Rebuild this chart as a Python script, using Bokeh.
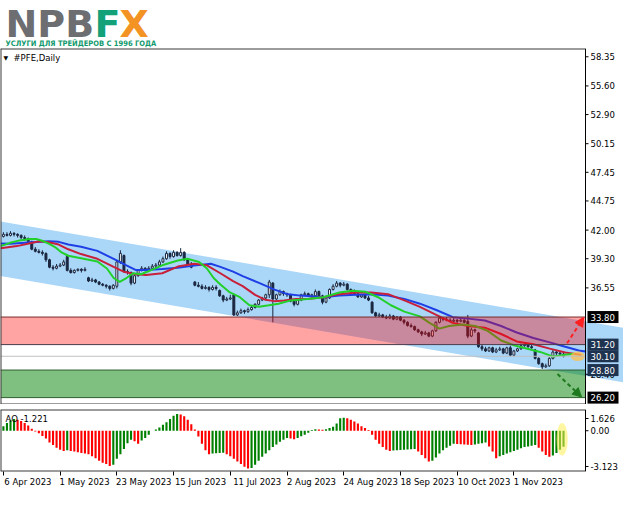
from bokeh.plotting import figure
from bokeh.layouts import column
from bokeh.models import (Range1d, FixedTicker, Label, Arrow, NormalHead,
                          ColumnDataSource, LinearAxis)
from bokeh.embed import file_html
from bokeh.resources import INLINE
from bokeh.core.properties import value

# ---------------- data ----------------
DATE_TICKS = [0, 16, 32, 48, 64, 80, 96, 112, 128, 144]
DATE_LABELS = ["6 Apr 2023", "1 May 2023", "23 May 2023", "15 Jun 2023", "11 Jul 2023",
               "2 Aug 2023", "24 Aug 2023", "18 Sep 2023", "10 Oct 2023", "1 Nov 2023"]

OPEN = [41.4,41.6,41.5,41.7,41.6,41.5,41.3,41.2,40.9,40.2,
        40.0,39.9,39.8,39.2,38.5,38.4,38.6,38.7,39.5,38.2,
        38.0,38.2,38.3,38.2,37.5,37.2,37.3,37.1,36.9,36.8,
        36.7,36.5,36.7,39.0,39.6,38.1,38.0,37.0,37.7,38.2,
        38.4,38.3,38.4,38.6,38.7,39.0,39.3,39.8,39.5,39.9,
        39.6,39.9,39.2,38.8,37.1,36.8,36.7,36.5,36.6,36.4,
        36.6,36.3,35.8,35.4,35.5,35.9,34.0,34.2,34.4,34.3,
        34.5,34.7,35.0,35.4,35.6,35.9,37.0,35.5,35.9,36.2,
        36.0,35.9,35.3,35.0,35.4,35.9,36.0,35.8,35.8,36.2,
        35.8,35.2,35.6,36.4,36.7,37.0,36.8,36.9,36.4,36.2,
        36.0,35.7,35.9,35.6,35.2,34.2,33.9,34.0,33.8,33.7,
        33.9,33.6,33.8,33.5,33.3,33.0,32.9,32.6,32.4,32.2,
        32.3,32.0,32.5,33.3,33.7,33.6,33.5,33.4,33.5,33.4,
        33.5,33.4,32.0,32.6,32.3,31.0,30.8,30.6,30.9,30.5,
        30.7,30.8,30.4,30.9,30.2,30.6,30.8,31.1,31.2,31.0,
        30.7,29.9,29.4,29.1,29.2,29.9,30.5,30.4,30.3]
HIGH = [41.8,41.8,41.9,41.8,41.7,41.6,41.5,41.3,41.0,40.4,
        40.2,40.1,39.9,39.3,38.7,38.8,38.9,39.2,39.7,38.4,
        38.3,38.4,38.4,38.5,37.6,37.5,37.4,37.2,37.0,36.9,
        36.8,36.9,39.2,40.1,39.7,38.3,38.1,37.8,38.3,38.6,
        38.5,38.6,38.8,38.9,39.2,39.5,40.0,39.9,40.1,40.0,
        40.3,40.0,39.3,39.0,37.2,37.1,36.9,36.8,36.7,36.8,
        36.8,36.4,35.9,35.7,35.9,36.0,34.4,34.6,34.5,34.7,
        34.9,35.1,35.5,35.7,36.0,37.3,37.1,36.0,36.4,36.3,
        36.1,36.0,35.4,35.5,36.0,36.2,36.1,36.0,36.4,36.3,
        35.9,35.7,36.5,36.9,37.2,37.1,37.1,37.0,36.5,36.4,
        36.1,36.0,36.0,35.8,35.3,34.3,34.2,34.1,34.0,34.1,
        34.0,33.9,33.9,33.6,33.4,33.2,33.0,32.7,32.5,32.5,
        32.4,32.6,33.4,33.9,33.8,33.8,33.7,33.7,33.6,33.7,
        33.6,34.0,32.8,32.7,32.4,31.2,31.0,31.0,31.0,30.9,
        31.0,30.9,31.0,31.1,30.7,30.9,31.3,31.4,31.3,31.2,
        30.8,30.0,29.5,29.4,30.0,30.7,30.6,30.6,30.5]
LOW = [41.3,41.4,41.4,41.4,41.3,41.1,41.0,40.7,40.1,39.9,
       39.8,39.6,39.0,38.4,38.2,38.3,38.5,38.6,38.1,37.9,
       37.9,38.1,38.0,38.1,37.1,37.1,37.0,36.8,36.7,36.5,
       36.3,36.4,36.5,38.8,38.0,37.8,36.8,36.9,37.6,38.1,
       38.1,38.2,38.3,38.4,38.6,38.9,39.2,39.3,39.4,39.5,
       39.5,39.1,38.7,38.4,36.7,36.6,36.4,36.4,36.2,36.3,
       36.3,35.7,35.2,35.3,35.4,33.9,33.9,34.1,34.1,34.2,
       34.4,34.6,34.9,35.3,35.5,35.6,33.3,35.4,35.8,35.8,
       35.7,35.2,34.8,34.9,35.3,35.8,35.7,35.6,35.7,35.7,
       35.0,35.1,35.5,36.3,36.6,36.6,36.7,36.3,36.1,35.9,
       35.6,35.6,35.5,35.3,34.1,33.8,33.8,33.7,33.6,33.6,
       33.5,33.5,33.4,33.1,32.9,32.8,32.5,32.3,32.0,32.1,
       31.9,31.9,32.4,33.2,33.4,33.4,33.3,33.3,33.2,33.3,
       33.2,31.8,31.9,32.3,30.9,30.6,30.5,30.5,30.4,30.4,
       30.6,30.3,30.3,30.1,30.1,30.5,30.7,31.0,30.9,30.8,
       29.8,29.3,28.9,29.0,29.1,29.8,30.2,30.2,30.0]
CLOSE = [41.6,41.5,41.7,41.6,41.5,41.3,41.2,40.9,40.2,40.0,
         39.9,39.8,39.2,38.5,38.4,38.6,38.7,39.0,38.2,38.0,
         38.2,38.3,38.2,38.3,37.2,37.3,37.1,36.9,36.8,36.7,
         36.5,36.8,39.0,39.8,38.1,38.0,37.0,37.7,38.2,38.4,
         38.3,38.4,38.6,38.7,39.0,39.3,39.8,39.5,39.9,39.6,
         39.9,39.2,38.8,38.5,36.8,36.7,36.5,36.6,36.4,36.6,
         36.5,35.8,35.4,35.5,35.6,34.0,34.2,34.4,34.3,34.5,
         34.7,35.0,35.4,35.6,35.9,37.1,35.5,35.9,36.2,36.0,
         35.9,35.3,35.0,35.4,35.9,36.0,35.8,35.9,36.2,35.8,
         35.2,35.6,36.4,36.7,37.0,36.8,36.9,36.4,36.2,36.0,
         35.7,35.9,35.6,35.4,34.2,33.9,34.0,33.8,33.7,33.9,
         33.6,33.8,33.5,33.3,33.0,32.9,32.6,32.4,32.2,32.3,
         32.0,32.5,33.3,33.7,33.6,33.5,33.4,33.5,33.4,33.5,
         33.3,32.0,32.6,32.5,31.0,30.8,30.6,30.9,30.5,30.7,
         30.8,30.4,30.9,30.2,30.6,30.8,31.1,31.2,31.0,30.9,
         29.9,29.4,29.1,29.2,29.9,30.5,30.4,30.3,30.1]

AO = [0.35,0.6,0.8,0.9,0.85,0.75,0.6,0.4,0.15,-0.05,
      -0.2,-0.4,-0.6,-0.9,-1.1,-1.3,-1.45,-1.55,-1.5,-1.55,
      -1.6,-1.65,-1.7,-1.75,-1.8,-1.95,-2.1,-2.3,-2.45,-2.55,
      -2.7,-2.6,-2.15,-1.8,-1.4,-0.95,-0.7,-0.8,-1.0,-0.75,
      -0.55,-0.3,0.0,0.1,0.25,0.45,0.65,0.9,1.15,1.28,
      1.25,1.1,0.85,0.5,0.1,-0.45,-1.0,-1.5,-1.8,-1.75,
      -1.72,-1.7,-1.68,-1.8,-1.95,-2.15,-2.35,-2.55,-2.75,-2.9,
      -2.85,-2.6,-2.3,-2.0,-1.75,-1.5,-1.25,-1.05,-0.85,-0.7,
      -0.55,-0.6,-0.65,-0.55,-0.42,-0.3,-0.15,0.05,0.12,0.1,
      0.08,0.12,0.2,0.3,0.55,0.95,1.0,0.95,0.85,0.7,
      0.55,0.35,0.2,0.05,-0.3,-0.7,-1.0,-1.25,-1.45,-1.55,
      -1.52,-1.5,-1.48,-1.46,-1.44,-1.42,-1.4,-1.6,-1.85,-2.1,
      -2.35,-2.3,-2.05,-1.75,-1.5,-1.3,-1.15,-1.0,-1.02,-1.04,
      -1.06,-1.08,-1.1,-1.05,-1.0,-0.95,-0.9,-1.2,-1.6,-2.1,
      -1.95,-1.85,-1.75,-1.65,-1.55,-1.45,-1.35,-1.25,-1.2,-1.15,
      -1.1,-1.3,-1.6,-1.85,-2.0,-1.9,-1.7,-1.45,-1.221]
AO_LABEL = "AO -1.221"
AO_MAX, AO_MIN = 1.626, -3.123

# Alligator lines (bar index, price)
JAW_X = [-0.8,1.9,8.2,12.8,15.6,18.3,21.9,26.5,31.1,34.7,37.4,40.2,44.8,49.2,53.8,58.5,61.2,64.8,67.5,72.1,
         76.5,80.3,83.9,90.2,94.8,99.5,103.8,108.5,113.1,117.5,122.1,126.8,131.1,135.8,140.4,144.8,149.5,154.1,158.5,162.3,164.2]
JAW_Y = [40.73,40.71,40.85,40.94,40.89,40.64,40.43,40.04,39.29,38.68,38.23,38.23,38.32,38.44,38.65,38.83,38.53,38.08,37.66,37.02,
         36.39,35.94,35.82,35.67,35.82,35.91,35.96,35.82,35.51,35.06,34.46,33.79,33.65,33.47,32.95,32.34,31.82,31.41,30.99,30.64,30.54]
TEETH_X = [-0.8,3.8,8.2,10.1,12.8,15.6,18.3,21.9,26.5,31.1,33.9,37.4,40.2,44.8,49.2,53.8,57.4,61.2,64.8,67.5,71.0,
           73.8,76.5,79.2,82.5,85.8,90.2,94.8,99.5,103.8,108.5,113.1,117.5,122.1,126.8,131.1,135.8,140.4,144.8,149.5,154.1,158.5,163.0]
TEETH_Y = [40.28,40.49,40.80,40.94,40.85,40.64,40.19,39.74,39.29,38.53,38.08,37.84,37.77,37.93,38.56,38.83,38.68,37.93,37.18,36.72,35.89,
           35.44,35.30,35.37,35.51,35.51,35.67,35.96,36.12,36.12,35.96,35.37,34.76,34.01,33.25,32.95,32.80,32.20,31.50,31.23,30.82,30.46,30.22]
LIPS_X = [-0.8,1.9,4.6,7.4,9.3,10.9,12.8,14.8,16.4,18.3,21.9,26.5,29.2,31.1,32.8,34.7,36.6,38.8,40.2,44.8,
          49.2,51.9,55.2,57.4,59.3,61.2,63.9,66.7,69.4,72.1,74.9,77.6,81.1,85.8,90.2,94.8,98.4,102.2,105.7,109.3,
          113.1,117.5,120.2,123.0,125.7,129.5,133.1,136.6,140.4,144.0,147.5,151.4,155.0,158.5,161.0]
LIPS_Y = [40.49,40.80,41.03,41.16,41.16,41.00,40.73,40.34,39.89,39.58,39.35,39.04,38.38,37.48,37.11,37.48,37.93,37.84,38.02,38.68,
          39.13,39.29,38.99,38.38,37.48,36.87,36.12,35.67,34.91,34.76,34.91,35.06,35.37,35.51,35.67,36.12,36.27,36.18,35.67,34.91,
          34.31,33.86,33.25,32.71,32.95,33.10,32.95,32.50,31.59,31.14,30.84,30.51,30.08,30.24,30.33]

CHANNEL_X = [-0.82, 174.92]
CHANNEL_UPPER = [42.81, 32.79]
CHANNEL_LOWER = [37.66, 27.63]
RESISTANCE_ZONE = [31.20, 33.80]
SUPPORT_ZONE = [26.20, 28.80]
BID = 30.10
PRICE_TICKS = [58.35, 55.60, 52.90, 50.15, 47.45, 44.75, 42.00, 39.30, 36.55, 28.40]
UP_ARROW = [159.0, 31.32, 163.7, 33.77]
DOWN_ARROW = [156.3, 28.42, 163.1, 26.25]
HIGHLIGHT_MAIN = [162.0, 30.1]
HIGHLIGHT_AO = [157.6, -0.65]
AO_TICKS = [0.937, 0.0, -2.74]
AO_TICK_LABELS = ["1.626", "0.00", "-3.123"]

# ---------------- layout ----------------
W = 623
RB = 38                      # width of the price-scale strip
FRAME_W = W - RB
X0, X1 = -0.82, 164.2        # visible bar range of the chart area
PXB = FRAME_W / (X1 - X0)    # pixels per bar
X_END = X1 + RB / PXB        # frames continue through the price-scale strip
Y0, Y1 = 25.55, 59.13
HEAD_H = 48
MAIN_H = 356
AO_H = 88
AO_TOP, AO_BOTTOM = 5, 21
PXU = MAIN_H / (Y1 - Y0)
FONT = "DejaVu Sans"
NAVY = "#1c2840"
BORDER = "#3a3a3a"

xr = Range1d(X0, X_END)

# header with logo
head = figure(width=W, height=HEAD_H, x_range=Range1d(0, W), y_range=Range1d(HEAD_H, 0),
              output_backend="svg", toolbar_location=None, min_border=0,
              x_axis_location=None, y_axis_location=None, outline_line_color=None)
head.grid.visible = False
for txt, x0, col in [("NPB", 5, "#6d6e71"), ("F", 94, "#13a17a"), ("X", 119, "#f39323")]:
    head.text(x=[x0], y=[23], text=[txt], text_font=value(FONT), text_font_style="bold",
              text_font_size="38px", text_color=col, text_baseline="middle")
head.text(x=[5], y=[43], text=["УСЛУГИ ДЛЯ ТРЕЙДЕРОВ С 1996 ГОДА"],
          text_font=value("DejaVu Sans Condensed"), text_font_style="bold",
          text_font_size="7.5px", text_color="#109a6e", text_baseline="middle")

# main price chart
main = figure(width=W, height=MAIN_H, x_range=xr, y_range=Range1d(Y0, Y1),
              output_backend="svg", toolbar_location=None, min_border=0,
              x_axis_location=None, y_axis_location=None, outline_line_color=None)
main.grid.visible = False

main.patch(x=[CHANNEL_X[0], CHANNEL_X[1], CHANNEL_X[1], CHANNEL_X[0]],
           y=[CHANNEL_UPPER[0], CHANNEL_UPPER[1], CHANNEL_LOWER[1], CHANNEL_LOWER[0]],
           fill_color="#aad6f8", line_color=None)

n = len(CLOSE)
src = ColumnDataSource(dict(
    x=list(range(n)), h=HIGH, l=LOW,
    top=[max(o, c) for o, c in zip(OPEN, CLOSE)],
    bot=[min(o, c) for o, c in zip(OPEN, CLOSE)],
    fill=["white" if c >= o else NAVY for o, c in zip(OPEN, CLOSE)]))
main.segment(x0="x", y0="h", x1="x", y1="l", source=src, line_color=NAVY, line_width=1)
main.vbar(x="x", top="top", bottom="bot", width=0.55, fill_color="fill",
          line_color=NAVY, line_width=1, source=src)

main.line(JAW_X, JAW_Y, line_color="#1f3fe6", line_width=2)
main.line(TEETH_X, TEETH_Y, line_color="#c8203a", line_width=2)
main.line(LIPS_X, LIPS_Y, line_color="#22d02a", line_width=2)

main.ellipse(x=[HIGHLIGHT_MAIN[0]], y=[HIGHLIGHT_MAIN[1]], width=4.0, height=0.9,
             fill_color="#ffc04a", fill_alpha=0.75, line_color=None)

main.quad(left=[X0, X0], right=[X1, X1],
          bottom=[RESISTANCE_ZONE[0], SUPPORT_ZONE[0]], top=[RESISTANCE_ZONE[1], SUPPORT_ZONE[1]],
          fill_color=["#ff0000", "#008000"], fill_alpha=[0.36, 0.5], line_color=None)
level_prices = [RESISTANCE_ZONE[1], RESISTANCE_ZONE[0], BID, SUPPORT_ZONE[1], SUPPORT_ZONE[0]]
level_colors = ["#7a2a2a", "#4a3a4a", "#c0c0c0", "#2f5f2f", "#2f5f2f"]
main.segment(x0=[X0] * 5, x1=[X1] * 5, y0=level_prices, y1=level_prices,
             line_color=level_colors, line_width=1)

main.add_layout(Arrow(end=NormalHead(size=9, fill_color="#ff2020", line_color="#ff2020"),
                      x_start=UP_ARROW[0], y_start=UP_ARROW[1], x_end=UP_ARROW[2], y_end=UP_ARROW[3],
                      line_color="#ff2020", line_width=2, line_dash="4 3"))
main.add_layout(Arrow(end=NormalHead(size=9, fill_color="#1f7a1f", line_color="#1f7a1f"),
                      x_start=DOWN_ARROW[0], y_start=DOWN_ARROW[1], x_end=DOWN_ARROW[2], y_end=DOWN_ARROW[3],
                      line_color="#1f7a1f", line_width=2, line_dash="4 3"))

# frame borders and price scale line
main.segment(x0=[X0, X0, X0], x1=[X1, X1, X0], y0=[Y1, Y0, Y0], y1=[Y1, Y0, Y1],
             line_color=BORDER, line_width=2)
main.segment(x0=[X1], x1=[X1], y0=[Y0], y1=[Y1], line_color="black", line_width=1)

nt = len(PRICE_TICKS)
main.segment(x0=[X1] * nt, x1=[X1 + 3 / PXB] * nt, y0=PRICE_TICKS, y1=PRICE_TICKS,
             line_color="black", line_width=1)
main.text(x=[X1 + 5 / PXB] * nt, y=PRICE_TICKS, text=[f"{t:.2f}" for t in PRICE_TICKS],
          text_font=value(FONT), text_font_size="8.5px", text_color="black", text_baseline="middle")

box_bg = ["black", "#1e3350", "#1e3350", "#1e3350", "black"]
main.quad(left=[X1 + 2 / PXB] * 5, right=[X1 + 33 / PXB] * 5,
          bottom=[p - 6 / PXU for p in level_prices], top=[p + 6 / PXU for p in level_prices],
          fill_color=box_bg, line_color=None)
main.text(x=[X1 + 5 / PXB] * 5, y=level_prices, text=[f"{p:.2f}" for p in level_prices],
          text_font=value(FONT), text_font_size="8.5px", text_color="white", text_baseline="middle")

main.add_layout(Label(x=3, y=MAIN_H - 9, x_units="screen", y_units="screen", text="▼",
                      text_font=FONT, text_font_size="6px", text_baseline="middle", text_color="black"))
main.add_layout(Label(x=13, y=MAIN_H - 9, x_units="screen", y_units="screen", text="#PFE,Daily",
                      text_font=FONT, text_font_size="8.5px", text_baseline="middle", text_color="black"))

# AO panel
ao = figure(width=W, height=AO_H, x_range=xr, y_range=Range1d(AO_MIN, AO_MAX),
            output_backend="svg", toolbar_location=None,
            min_border_left=0, min_border_right=0, min_border_top=AO_TOP, min_border_bottom=AO_BOTTOM,
            y_axis_location=None, x_axis_location="below", outline_line_color=None)
ao.grid.visible = False
colors = ["green" if k == 0 or AO[k] > AO[k - 1] else "red" for k in range(len(AO))]
ao.vbar(x=list(range(len(AO))), top=AO, bottom=0, width=0.6, fill_color=colors, line_color=None)
ao.ellipse(x=[HIGHLIGHT_AO[0]], y=[HIGHLIGHT_AO[1]], width=3.2, height=2.5,
           fill_color="#ffee55", fill_alpha=0.55, line_color=None)

ao.segment(x0=[X0, X0, X0], x1=[X1, X1, X0], y0=[AO_MAX, AO_MIN, AO_MIN], y1=[AO_MAX, AO_MIN, AO_MAX],
           line_color=BORDER, line_width=2)
ao.segment(x0=[X1], x1=[X1], y0=[AO_MIN], y1=[AO_MAX], line_color="black", line_width=1)
na = len(AO_TICKS)
ao.segment(x0=[X1] * na, x1=[X1 + 3 / PXB] * na, y0=AO_TICKS, y1=AO_TICKS, line_color="black", line_width=1)
ao.text(x=[X1 + 5 / PXB] * na, y=AO_TICKS, text=AO_TICK_LABELS,
        text_font=value(FONT), text_font_size="8.5px", text_color="black", text_baseline="middle")

# date axis: tick marks on the bars, labels start at the tick (MT4 style)
ao.xaxis.ticker = FixedTicker(ticks=DATE_TICKS)
ao.xaxis.major_label_overrides = {t: "" for t in DATE_TICKS}
ao.xaxis.major_label_text_font_size = "1px"
ao.xaxis.major_label_standoff = 0
ao.xaxis.major_tick_in = 0
ao.xaxis.major_tick_out = 4
ao.xaxis.minor_tick_out = 0
ao.xaxis.minor_tick_in = 0
ao.xaxis.axis_line_color = None

label_pos = [t + (len(s) * 4.9 / 2) / PXB for t, s in zip(DATE_TICKS, DATE_LABELS)]
date_axis = LinearAxis(ticker=FixedTicker(ticks=label_pos),
                       major_label_overrides={p: s for p, s in zip(label_pos, DATE_LABELS)},
                       major_label_text_font=FONT, major_label_text_font_size="8.5px",
                       major_label_text_color="black", major_label_standoff=1,
                       major_tick_in=0, major_tick_out=0, minor_tick_in=0, minor_tick_out=0,
                       axis_line_color=None)
ao.add_layout(date_axis, "below")

ao.add_layout(Label(x=5, y=AO_H - AO_TOP - AO_BOTTOM - 9, x_units="screen", y_units="screen",
                    text=AO_LABEL, text_font=FONT, text_font_size="8.5px",
                    text_baseline="middle", text_color="black"))

p = column(head, main, ao, spacing=0)
open("out.html", "w").write(file_html(p, INLINE))
